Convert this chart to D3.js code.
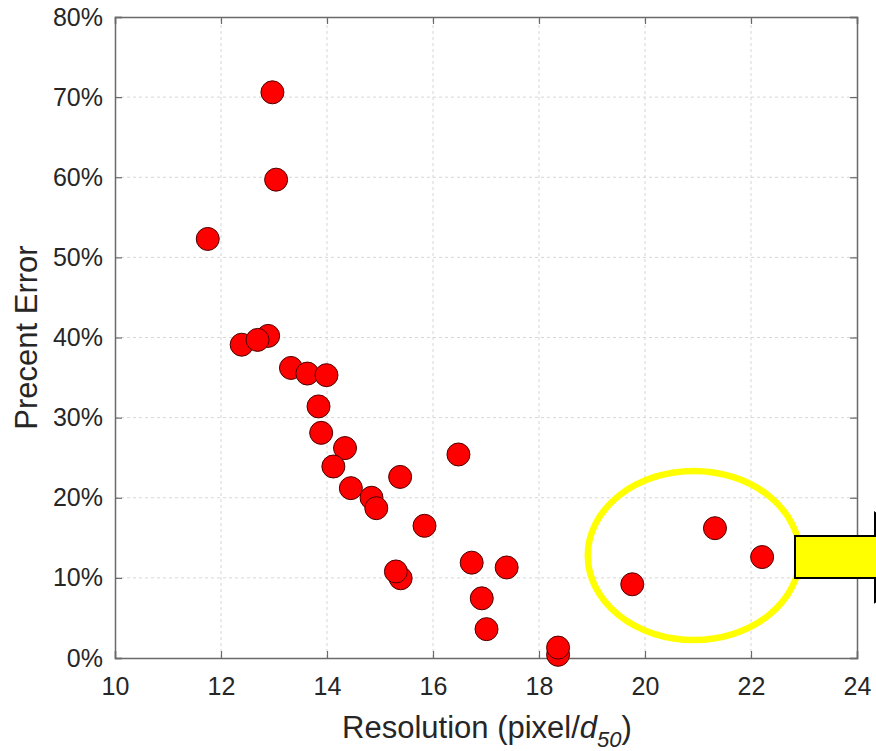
<!DOCTYPE html>
<html>
<head>
<meta charset="utf-8">
<script src="https://cdn.jsdelivr.net/npm/d3@7"></script>
<style>
  body{margin:0;background:#fff;}
  text{font-family:"Liberation Sans",Arial,Helvetica,sans-serif;fill:#262626;}
</style>
</head>
<body>
<svg id="chart"></svg>
<script>
// resolution (pixel/d50) and percent error
const resolution = [11.75, 12.97, 13.04, 12.39, 12.89, 12.69, 13.32, 13.63, 13.99, 13.84, 13.89,
  14.34, 14.12, 14.45, 14.84, 14.93, 16.48, 15.38, 15.84, 15.39, 15.30, 16.73, 17.39, 16.92,
  17.01, 18.36, 18.36, 19.76, 21.32, 22.21]
const percentError = [52.3, 70.6, 59.7, 39.1, 40.2, 39.7, 36.2, 35.5, 35.3, 31.4, 28.1,
  26.2, 23.9, 21.2, 20.0, 18.7, 25.4, 22.6, 16.5, 9.95, 10.8, 11.9, 11.3, 7.45,
  3.6, 0.4, 1.3, 9.2, 16.2, 12.6]

const xTicks = [10, 12, 14, 16, 18, 20, 22, 24]
const yTicks = [0, 10, 20, 30, 40, 50, 60, 70, 80]

// highlight ellipse + arrow, in data units
const ellipse = {cx: 20.92, cy: 12.8, rx: 2.0, ry: 10.55}
const arrowX = [22.83, 24.34, 25.6]
const arrowY = [9.99, 15.23, 7.0, 18.1, 12.6]

const W = 876, H = 751
const margin = {top: 17, right: 19, bottom: 93, left: 115}

const svg = d3.select('#chart').attr('width', W).attr('height', H)

const x = d3.scaleLinear().domain([10, 24]).range([margin.left, W - margin.right])
const y = d3.scaleLinear().domain([0, 80]).range([H - margin.bottom, margin.top])

// grid
svg.append('g')
  .selectAll('line.vg')
  .data(xTicks.slice(1, -1))
  .join('line')
  .attr('x1', d => x(d)).attr('x2', d => x(d))
  .attr('y1', y(0)).attr('y2', y(80))
  .attr('stroke', '#d6d6d6').attr('stroke-dasharray', '3,3')
svg.append('g')
  .selectAll('line.hg')
  .data(yTicks.slice(1, -1))
  .join('line')
  .attr('x1', x(10)).attr('x2', x(24))
  .attr('y1', d => y(d)).attr('y2', d => y(d))
  .attr('stroke', '#d6d6d6').attr('stroke-dasharray', '3,3')

// axes, ticks pointing inward (matlab box)
const axisCol = '#6a6a6a'
const xAxis = d3.axisBottom(x).tickValues(xTicks).tickSize(-7).tickPadding(19).tickFormat(d3.format('d'))
const yAxis = d3.axisLeft(y).tickValues(yTicks).tickSize(-7).tickPadding(12).tickFormat(d => d + '%')

const gx = svg.append('g').attr('transform', `translate(0,${y(0)})`).call(xAxis)
const gy = svg.append('g').attr('transform', `translate(${x(10)},0)`).call(yAxis)
const gxTop = svg.append('g').attr('transform', `translate(0,${y(80)})`)
  .call(d3.axisTop(x).tickValues(xTicks).tickSize(-7).tickFormat(''))
const gyRight = svg.append('g').attr('transform', `translate(${x(24)},0)`)
  .call(d3.axisRight(y).tickValues(yTicks).tickSize(-7).tickFormat(''))

;[gx, gy, gxTop, gyRight].forEach(g => {
  g.select('.domain').attr('stroke', axisCol).attr('stroke-width', 1.5)
  g.selectAll('.tick line').attr('stroke', axisCol).attr('stroke-width', 1.2)
  g.selectAll('.tick text').attr('font-size', 25).attr('fill', '#333')
    .style('font-family', '"Liberation Sans",Arial,sans-serif')
})

// points
svg.append('g')
  .selectAll('circle')
  .data(resolution.map((r, i) => [r, percentError[i]]))
  .join('circle')
  .attr('cx', d => x(d[0]))
  .attr('cy', d => y(d[1]))
  .attr('r', 11.5)
  .attr('fill', '#ff0000')
  .attr('stroke', '#4a0000')
  .attr('stroke-width', 1)

// yellow highlight
svg.append('ellipse')
  .attr('cx', x(ellipse.cx)).attr('cy', y(ellipse.cy))
  .attr('rx', x(10 + ellipse.rx) - x(10)).attr('ry', y(0) - y(ellipse.ry))
  .attr('fill', 'none').attr('stroke', '#ffff00').attr('stroke-width', 6.5)

const arrowPts = [
  [arrowX[0], arrowY[0]], [arrowX[0], arrowY[1]], [arrowX[1], arrowY[1]], [arrowX[1], arrowY[3]],
  [arrowX[2], arrowY[4]], [arrowX[1], arrowY[2]], [arrowX[1], arrowY[0]]
]
svg.append('path')
  .attr('d', d3.line().x(d => x(d[0])).y(d => y(d[1]))(arrowPts) + 'Z')
  .attr('fill', '#ffff00').attr('stroke', '#000').attr('stroke-width', 2)

// labels
svg.append('text')
  .attr('transform', `translate(37,${(y(0) + y(80)) / 2}) rotate(-90)`)
  .attr('text-anchor', 'middle')
  .attr('font-size', 31)
  .attr('fill', '#333')
  .text('Precent Error')

const xl = svg.append('text')
  .attr('x', 487)
  .attr('y', 738)
  .attr('text-anchor', 'middle')
  .attr('font-size', 31)
  .attr('fill', '#333')
xl.append('tspan').text('Resolution (pixel/')
xl.append('tspan').attr('font-style', 'italic').text('d')
xl.append('tspan').attr('font-style', 'italic').attr('font-size', 22).attr('dy', 9).text('50')
xl.append('tspan').attr('dy', -9).text(')')
</script>
</body>
</html>
